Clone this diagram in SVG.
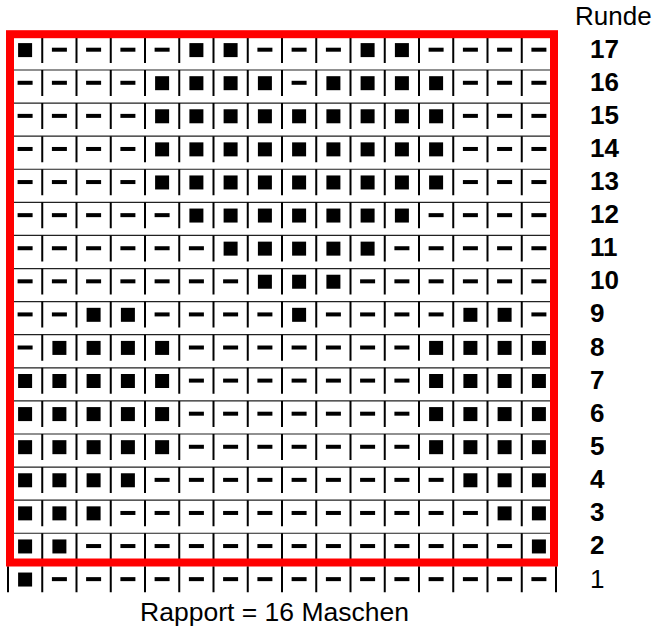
<svg xmlns="http://www.w3.org/2000/svg" width="655" height="629" viewBox="0 0 655 629">
<style>
.bg{fill:#fff}
.v{fill:none;stroke:#000;stroke-width:2}
.h{fill:none;stroke:#222;stroke-width:1.2}
.q,.d{fill:#000}
.frame{fill:none;stroke:#ff0000;stroke-width:8}
.t{font-family:"Liberation Sans",Arial,sans-serif;font-size:26px;fill:#000}
.b{font-weight:bold}
.r{font-size:26.5px}
</style>
<defs>
<rect id="q" class="q" x="-7" y="6.2" width="14" height="14"/>
<rect id="d" class="d" x="-7.5" y="10.8" width="15" height="4"/>
<path id="v" class="v" d="M8,0v26M42.25,0v26M76.5,0v26M110.75,0v26M145,0v26M179.25,0v26M213.5,0v26M247.75,0v26M282,0v26M316.25,0v26M350.5,0v26M384.75,0v26M419,0v26M453.25,0v26M487.5,0v26M521.75,0v26M556,0v26"/>
</defs>
<rect class="bg" x="0" y="0" width="655" height="629"/>
<g id="connectors">
<path class="h" d="M8,69.99H556M8,103.08H556M8,136.17H556M8,169.26H556M8,202.35H556M8,235.44H556M8,268.53H556M8,301.62H556M8,334.71H556M8,367.8H556M8,400.89H556M8,433.98H556M8,467.07H556M8,500.16H556M8,533.25H556"/>
</g>
<g id="row17" transform="translate(0,36.9)"><use href="#v"/><use href="#q" x="25.1"/><use href="#d" x="59.4"/><use href="#d" x="93.6"/><use href="#d" x="127.9"/><use href="#d" x="162.1"/><use href="#q" x="196.4"/><use href="#q" x="230.6"/><use href="#d" x="264.9"/><use href="#d" x="299.1"/><use href="#d" x="333.4"/><use href="#q" x="367.6"/><use href="#q" x="401.9"/><use href="#d" x="436.1"/><use href="#d" x="470.4"/><use href="#d" x="504.6"/><use href="#d" x="538.9"/></g>
<g id="row16" transform="translate(0,69.99)"><use href="#v"/><use href="#d" x="25.1"/><use href="#d" x="59.4"/><use href="#d" x="93.6"/><use href="#d" x="127.9"/><use href="#q" x="162.1"/><use href="#q" x="196.4"/><use href="#q" x="230.6"/><use href="#q" x="264.9"/><use href="#d" x="299.1"/><use href="#q" x="333.4"/><use href="#q" x="367.6"/><use href="#q" x="401.9"/><use href="#q" x="436.1"/><use href="#d" x="470.4"/><use href="#d" x="504.6"/><use href="#d" x="538.9"/></g>
<g id="row15" transform="translate(0,103.08)"><use href="#v"/><use href="#d" x="25.1"/><use href="#d" x="59.4"/><use href="#d" x="93.6"/><use href="#d" x="127.9"/><use href="#q" x="162.1"/><use href="#q" x="196.4"/><use href="#q" x="230.6"/><use href="#q" x="264.9"/><use href="#q" x="299.1"/><use href="#q" x="333.4"/><use href="#q" x="367.6"/><use href="#q" x="401.9"/><use href="#q" x="436.1"/><use href="#d" x="470.4"/><use href="#d" x="504.6"/><use href="#d" x="538.9"/></g>
<g id="row14" transform="translate(0,136.17)"><use href="#v"/><use href="#d" x="25.1"/><use href="#d" x="59.4"/><use href="#d" x="93.6"/><use href="#d" x="127.9"/><use href="#q" x="162.1"/><use href="#q" x="196.4"/><use href="#q" x="230.6"/><use href="#q" x="264.9"/><use href="#q" x="299.1"/><use href="#q" x="333.4"/><use href="#q" x="367.6"/><use href="#q" x="401.9"/><use href="#q" x="436.1"/><use href="#d" x="470.4"/><use href="#d" x="504.6"/><use href="#d" x="538.9"/></g>
<g id="row13" transform="translate(0,169.26)"><use href="#v"/><use href="#d" x="25.1"/><use href="#d" x="59.4"/><use href="#d" x="93.6"/><use href="#d" x="127.9"/><use href="#q" x="162.1"/><use href="#q" x="196.4"/><use href="#q" x="230.6"/><use href="#q" x="264.9"/><use href="#q" x="299.1"/><use href="#q" x="333.4"/><use href="#q" x="367.6"/><use href="#q" x="401.9"/><use href="#q" x="436.1"/><use href="#d" x="470.4"/><use href="#d" x="504.6"/><use href="#d" x="538.9"/></g>
<g id="row12" transform="translate(0,202.35)"><use href="#v"/><use href="#d" x="25.1"/><use href="#d" x="59.4"/><use href="#d" x="93.6"/><use href="#d" x="127.9"/><use href="#d" x="162.1"/><use href="#q" x="196.4"/><use href="#q" x="230.6"/><use href="#q" x="264.9"/><use href="#q" x="299.1"/><use href="#q" x="333.4"/><use href="#q" x="367.6"/><use href="#q" x="401.9"/><use href="#d" x="436.1"/><use href="#d" x="470.4"/><use href="#d" x="504.6"/><use href="#d" x="538.9"/></g>
<g id="row11" transform="translate(0,235.44)"><use href="#v"/><use href="#d" x="25.1"/><use href="#d" x="59.4"/><use href="#d" x="93.6"/><use href="#d" x="127.9"/><use href="#d" x="162.1"/><use href="#d" x="196.4"/><use href="#q" x="230.6"/><use href="#q" x="264.9"/><use href="#q" x="299.1"/><use href="#q" x="333.4"/><use href="#q" x="367.6"/><use href="#d" x="401.9"/><use href="#d" x="436.1"/><use href="#d" x="470.4"/><use href="#d" x="504.6"/><use href="#d" x="538.9"/></g>
<g id="row10" transform="translate(0,268.53)"><use href="#v"/><use href="#d" x="25.1"/><use href="#d" x="59.4"/><use href="#d" x="93.6"/><use href="#d" x="127.9"/><use href="#d" x="162.1"/><use href="#d" x="196.4"/><use href="#d" x="230.6"/><use href="#q" x="264.9"/><use href="#q" x="299.1"/><use href="#q" x="333.4"/><use href="#d" x="367.6"/><use href="#d" x="401.9"/><use href="#d" x="436.1"/><use href="#d" x="470.4"/><use href="#d" x="504.6"/><use href="#d" x="538.9"/></g>
<g id="row9" transform="translate(0,301.62)"><use href="#v"/><use href="#d" x="25.1"/><use href="#d" x="59.4"/><use href="#q" x="93.6"/><use href="#q" x="127.9"/><use href="#d" x="162.1"/><use href="#d" x="196.4"/><use href="#d" x="230.6"/><use href="#d" x="264.9"/><use href="#q" x="299.1"/><use href="#d" x="333.4"/><use href="#d" x="367.6"/><use href="#d" x="401.9"/><use href="#d" x="436.1"/><use href="#q" x="470.4"/><use href="#q" x="504.6"/><use href="#d" x="538.9"/></g>
<g id="row8" transform="translate(0,334.71)"><use href="#v"/><use href="#d" x="25.1"/><use href="#q" x="59.4"/><use href="#q" x="93.6"/><use href="#q" x="127.9"/><use href="#q" x="162.1"/><use href="#d" x="196.4"/><use href="#d" x="230.6"/><use href="#d" x="264.9"/><use href="#d" x="299.1"/><use href="#d" x="333.4"/><use href="#d" x="367.6"/><use href="#d" x="401.9"/><use href="#q" x="436.1"/><use href="#q" x="470.4"/><use href="#q" x="504.6"/><use href="#q" x="538.9"/></g>
<g id="row7" transform="translate(0,367.8)"><use href="#v"/><use href="#q" x="25.1"/><use href="#q" x="59.4"/><use href="#q" x="93.6"/><use href="#q" x="127.9"/><use href="#q" x="162.1"/><use href="#d" x="196.4"/><use href="#d" x="230.6"/><use href="#d" x="264.9"/><use href="#d" x="299.1"/><use href="#d" x="333.4"/><use href="#d" x="367.6"/><use href="#d" x="401.9"/><use href="#q" x="436.1"/><use href="#q" x="470.4"/><use href="#q" x="504.6"/><use href="#q" x="538.9"/></g>
<g id="row6" transform="translate(0,400.89)"><use href="#v"/><use href="#q" x="25.1"/><use href="#q" x="59.4"/><use href="#q" x="93.6"/><use href="#q" x="127.9"/><use href="#q" x="162.1"/><use href="#d" x="196.4"/><use href="#d" x="230.6"/><use href="#d" x="264.9"/><use href="#d" x="299.1"/><use href="#d" x="333.4"/><use href="#d" x="367.6"/><use href="#d" x="401.9"/><use href="#q" x="436.1"/><use href="#q" x="470.4"/><use href="#q" x="504.6"/><use href="#q" x="538.9"/></g>
<g id="row5" transform="translate(0,433.98)"><use href="#v"/><use href="#q" x="25.1"/><use href="#q" x="59.4"/><use href="#q" x="93.6"/><use href="#q" x="127.9"/><use href="#q" x="162.1"/><use href="#d" x="196.4"/><use href="#d" x="230.6"/><use href="#d" x="264.9"/><use href="#d" x="299.1"/><use href="#d" x="333.4"/><use href="#d" x="367.6"/><use href="#d" x="401.9"/><use href="#q" x="436.1"/><use href="#q" x="470.4"/><use href="#q" x="504.6"/><use href="#q" x="538.9"/></g>
<g id="row4" transform="translate(0,467.07)"><use href="#v"/><use href="#q" x="25.1"/><use href="#q" x="59.4"/><use href="#q" x="93.6"/><use href="#q" x="127.9"/><use href="#d" x="162.1"/><use href="#d" x="196.4"/><use href="#d" x="230.6"/><use href="#d" x="264.9"/><use href="#d" x="299.1"/><use href="#d" x="333.4"/><use href="#d" x="367.6"/><use href="#d" x="401.9"/><use href="#d" x="436.1"/><use href="#q" x="470.4"/><use href="#q" x="504.6"/><use href="#q" x="538.9"/></g>
<g id="row3" transform="translate(0,500.16)"><use href="#v"/><use href="#q" x="25.1"/><use href="#q" x="59.4"/><use href="#q" x="93.6"/><use href="#d" x="127.9"/><use href="#d" x="162.1"/><use href="#d" x="196.4"/><use href="#d" x="230.6"/><use href="#d" x="264.9"/><use href="#d" x="299.1"/><use href="#d" x="333.4"/><use href="#d" x="367.6"/><use href="#d" x="401.9"/><use href="#d" x="436.1"/><use href="#d" x="470.4"/><use href="#q" x="504.6"/><use href="#q" x="538.9"/></g>
<g id="row2" transform="translate(0,533.25)"><use href="#v"/><use href="#q" x="25.1"/><use href="#q" x="59.4"/><use href="#d" x="93.6"/><use href="#d" x="127.9"/><use href="#d" x="162.1"/><use href="#d" x="196.4"/><use href="#d" x="230.6"/><use href="#d" x="264.9"/><use href="#d" x="299.1"/><use href="#d" x="333.4"/><use href="#d" x="367.6"/><use href="#d" x="401.9"/><use href="#d" x="436.1"/><use href="#d" x="470.4"/><use href="#d" x="504.6"/><use href="#q" x="538.9"/></g>
<g id="row1" transform="translate(0,566.34)"><use href="#v"/><use href="#q" x="25.1"/><use href="#d" x="59.4"/><use href="#d" x="93.6"/><use href="#d" x="127.9"/><use href="#d" x="162.1"/><use href="#d" x="196.4"/><use href="#d" x="230.6"/><use href="#d" x="264.9"/><use href="#d" x="299.1"/><use href="#d" x="333.4"/><use href="#d" x="367.6"/><use href="#d" x="401.9"/><use href="#d" x="436.1"/><use href="#d" x="470.4"/><use href="#d" x="504.6"/><use href="#d" x="538.9"/></g>
<g id="repeat-frame"><rect class="frame" x="10" y="34.2" width="544" height="528.3"/></g>
<g id="labels">
<text class="t" x="575" y="25">Runde</text>
<text class="t b" x="590" y="57.7">17</text>
<text class="t b" x="590" y="90.8">16</text>
<text class="t b" x="590" y="123.9">15</text>
<text class="t b" x="590" y="157">14</text>
<text class="t b" x="590" y="190.1">13</text>
<text class="t b" x="590" y="223.2">12</text>
<text class="t b" x="590" y="256.2">11</text>
<text class="t b" x="590" y="289.3">10</text>
<text class="t b" x="590" y="322.4">9</text>
<text class="t b" x="590" y="355.5">8</text>
<text class="t b" x="590" y="388.6">7</text>
<text class="t b" x="590" y="421.7">6</text>
<text class="t b" x="590" y="454.8">5</text>
<text class="t b" x="590" y="487.9">4</text>
<text class="t b" x="590" y="521">3</text>
<text class="t b" x="590" y="554.1">2</text>
<text class="t" x="590" y="587.8">1</text>
<text class="t r" x="274.5" y="621" text-anchor="middle">Rapport = 16 Maschen</text>
</g>
</svg>
